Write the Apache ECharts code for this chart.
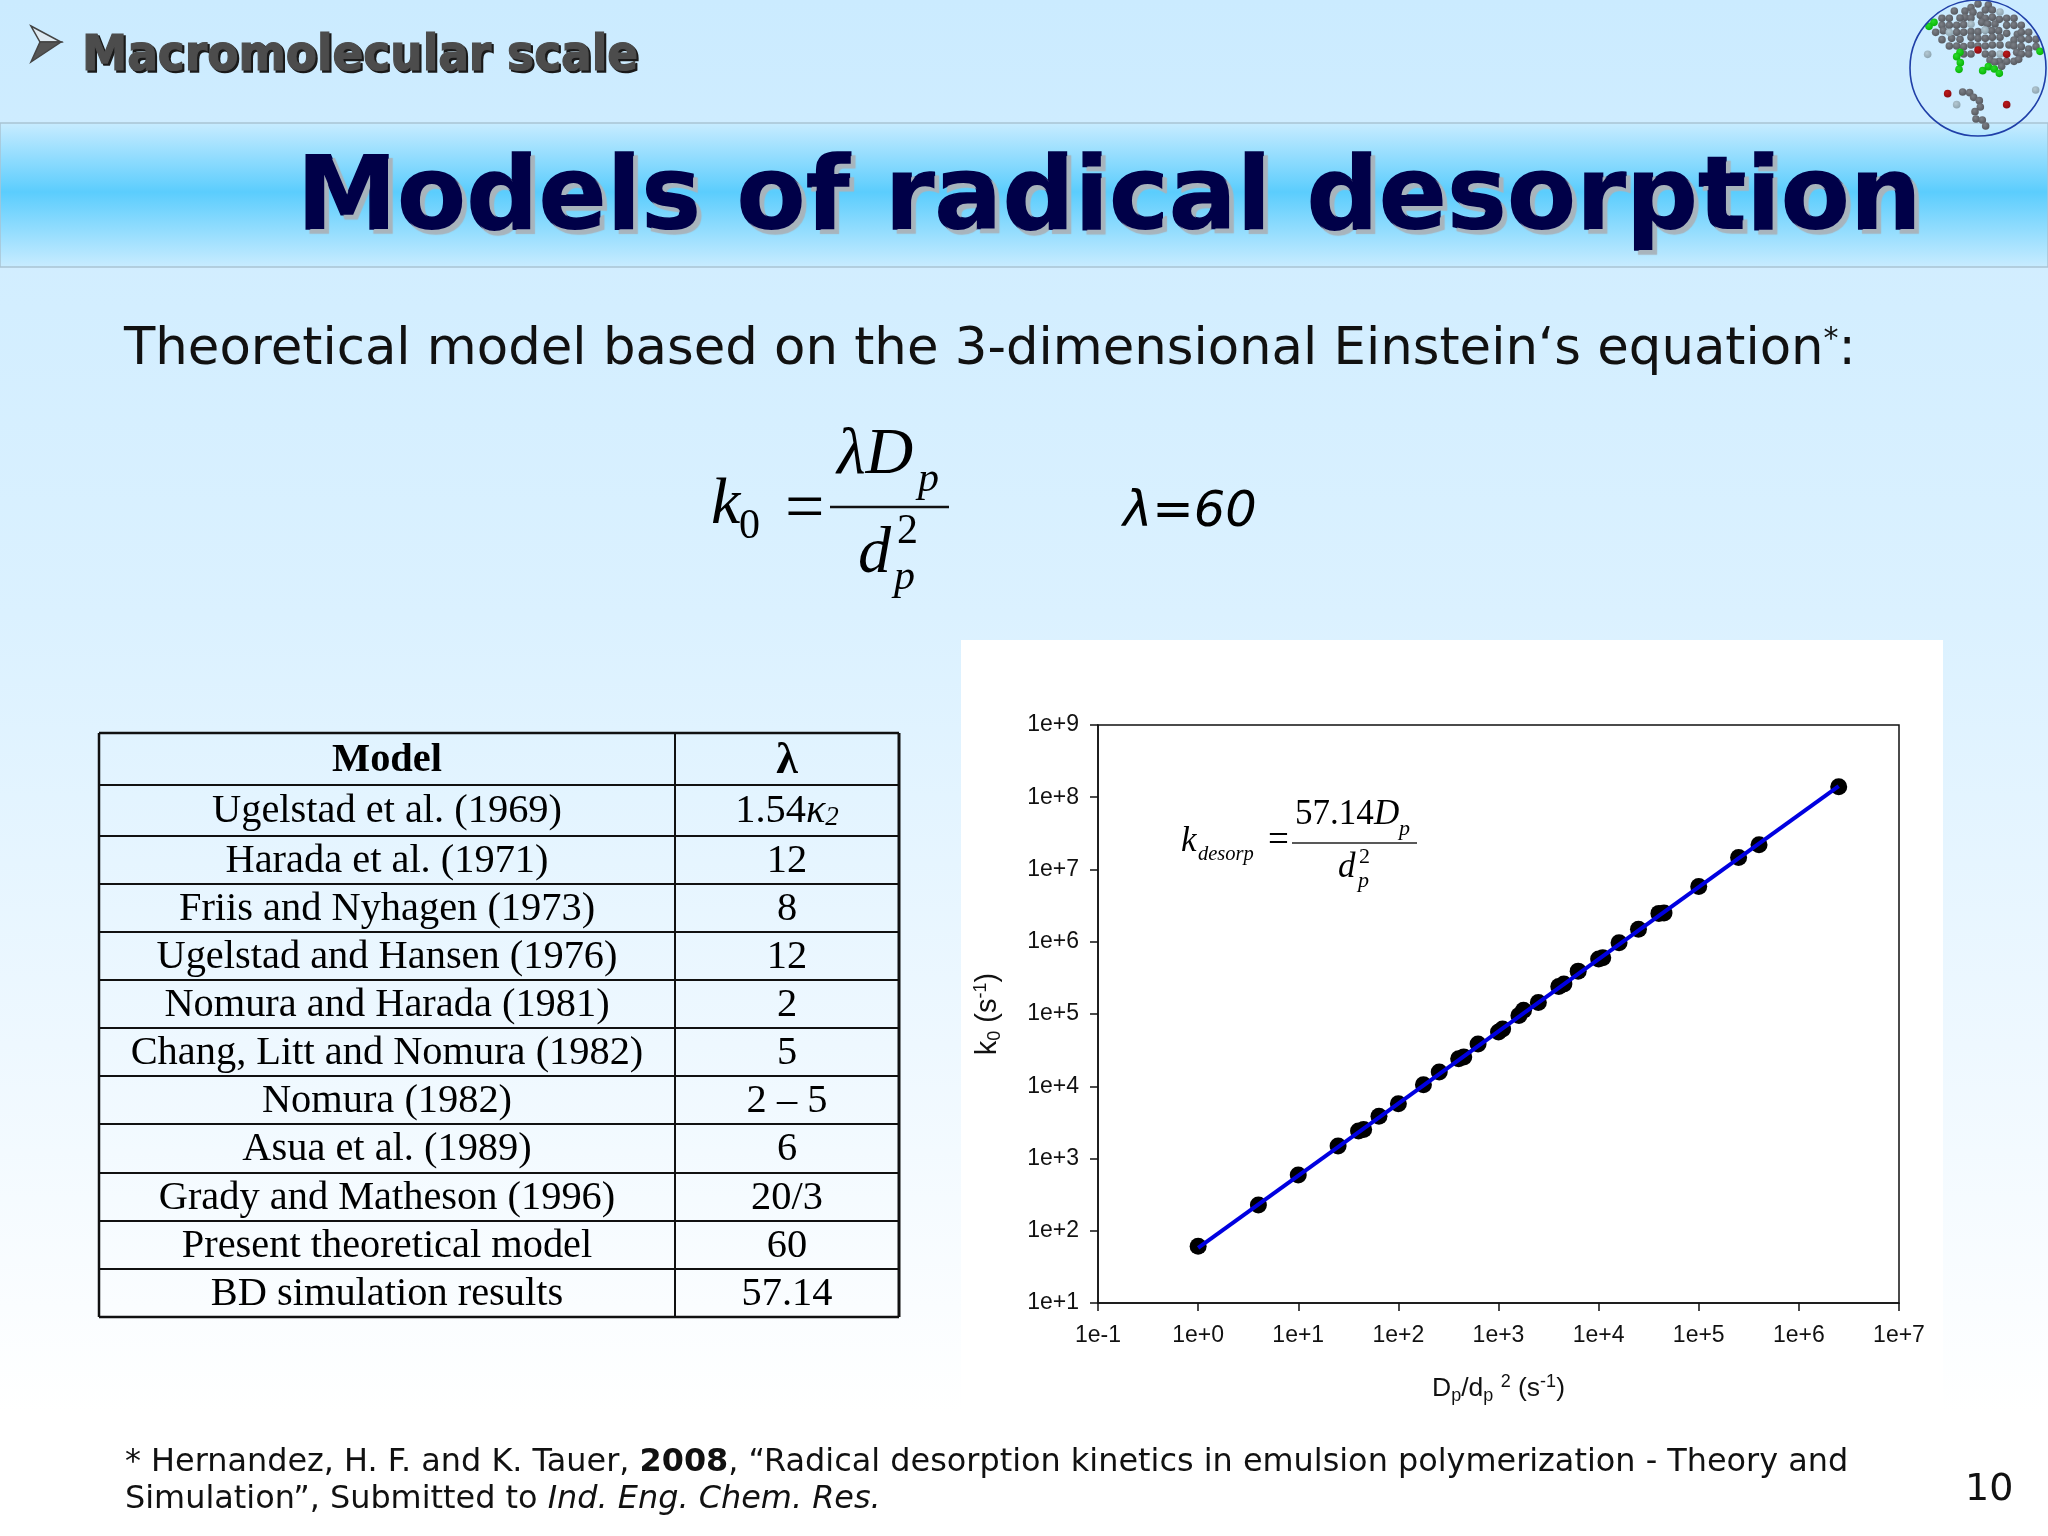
<!DOCTYPE html>
<html>
<head>
<meta charset="utf-8">
<script src="https://cdn.jsdelivr.net/npm/echarts@6/dist/echarts.min.js"></script>
<style>
html,body{margin:0;padding:0;background:#fff;}
#main{width:2048px;height:1536px;}
</style>
</head>
<body>
<div id="main"></div>
<script>
// chart data
var diffRate = [1, 4, 10, 25, 40, 45, 64, 100, 178, 256, 400, 450, 625, 1000, 1100, 1600, 1778, 2500, 4000, 4500, 6250, 10000, 11000, 16000, 25000, 40000, 45000, 100000, 250000, 400000, 2500000];
var desorpRate = [61, 228, 592, 1490, 2400, 2520, 3850, 5740, 10500, 15800, 24000, 25500, 38500, 56500, 62000, 95000, 113000, 144000, 240000, 260000, 392000, 575000, 600000, 970000, 1490000, 2470000, 2500000, 5800000, 14700000, 22000000, 140000000];
var fitX = [1, 2500000];
var fitY = [58, 142000000];
var xTicks = ['1e-1', '1e+0', '1e+1', '1e+2', '1e+3', '1e+4', '1e+5', '1e+6', '1e+7'];
var yTicks = ['1e+1', '1e+2', '1e+3', '1e+4', '1e+5', '1e+6', '1e+7', '1e+8', '1e+9'];

// table of models
var modelNames = ['Ugelstad et al. (1969)', 'Harada et al. (1971)', 'Friis and Nyhagen (1973)', 'Ugelstad and Hansen (1976)', 'Nomura and Harada (1981)', 'Chang, Litt and Nomura (1982)', 'Nomura (1982)', 'Asua et al. (1989)', 'Grady and Matheson (1996)', 'Present theoretical model', 'BD simulation results'];
var modelLambda = ['1.54{k|κ}{s|2}', '12', '8', '12', '2', '5', '2 – 5', '6', '20/3', '60', '57.14'];

// decoration: the little particle picture in the corner (zoom pixels)
var greyBalls = [[534,12],[565,15],[513,23],[463,33],[495,33],[519,37],[556,30],[577,30],[541,46],[495,52],[480,54],[513,54],[426,55],[448,55],[577,52],[556,55],[598,58],[620,55],[642,55],[545,67],[563,72],[585,72],[470,76],[491,74],[426,76],[448,76],[620,76],[642,76],[664,76],[407,97],[430,92],[470,97],[491,97],[513,95],[534,95],[556,90],[575,92],[596,92],[620,100],[652,103],[664,97],[686,97],[455,115],[480,118],[513,112],[534,115],[556,115],[577,112],[600,112],[642,120],[664,118],[686,118],[708,118],[426,119],[448,138],[470,138],[491,140],[513,135],[534,138],[556,138],[577,135],[600,135],[627,135],[642,138],[686,147],[664,140],[708,140],[491,162],[513,162],[556,162],[577,162],[650,157],[664,162],[686,162],[570,180],[598,184],[620,184],[642,184],[656,178],[605,199],[584,186],[488,276],[509,278],[521,292],[538,302],[541,321],[525,335],[528,357],[547,360],[557,378]];
var paleBalls = [[383,163],[470,314],[707,270],[600,36],[513,73],[448,97],[555,90],[600,162]];
var greenBalls = [[387,79],[402,67],[480,157],[470,170],[481,188],[477,208],[548,212],[565,200],[583,207],[598,220],[720,154]];
var redBalls = [[534,150],[620,163],[443,281],[620,314]];

var serif = '"Liberation Serif"';
var sans = '"DejaVu Sans"';
var elements = [];

function vGrad(stops) {
	return new echarts.graphic.LinearGradient(0, 0, 0, 1, stops);
}

// baseline positioned text
function putText(x, base, text, font, size, extra) {
	var st = {
		x: x,
		y: base - size * 0.28,
		text: text,
		font: font.replace('$', size + 'px'),
		fill: '#000',
		textAlign: 'left',
		verticalAlign: 'middle'
	};
	for (var k in extra) {
		st[k] = extra[k];
	}
	elements.push({ type: 'text', z: 5, silent: true, style: st });
}

function putLine(x1, y1, x2, y2, color, width) {
	elements.push({
		type: 'line', z: 5, silent: true,
		shape: { x1: x1, y1: y1, x2: x2, y2: y2 },
		style: { stroke: color, lineWidth: width }
	});
}

function putRect(x, y, w, h, fill, z) {
	elements.push({ type: 'rect', z: z, silent: true, shape: { x: x, y: y, width: w, height: h }, style: { fill: fill } });
}

//---------------------------background------------------------
putRect(0, 0, 2048, 1536, vGrad([
	{ offset: 0, color: '#cbebff' },
	{ offset: 0.4, color: '#dbf1ff' },
	{ offset: 0.68, color: '#eef8ff' },
	{ offset: 0.92, color: '#ffffff' },
	{ offset: 1, color: '#ffffff' }
]), -10);
elements.push({
	type: 'rect', z: -9, silent: true,
	shape: { x: 0, y: 123, width: 2048, height: 144 },
	style: {
		fill: vGrad([
			{ offset: 0, color: '#c9ecff' },
			{ offset: 0.48, color: '#5bcdfd' },
			{ offset: 1, color: '#c9ecff' }
		]),
		stroke: '#a9c3d3', lineWidth: 1.5
	}
});
putRect(961, 640, 982, 777, '#ffffff', -8);

//---------------------------header------------------------
elements.push({ type: 'polygon', z: 5, silent: true, shape: { points: [[31, 26], [61, 42], [40, 42]] }, style: { fill: '#dfeaf2', stroke: '#444', lineWidth: 1.5 } });
elements.push({ type: 'polygon', z: 5, silent: true, shape: { points: [[31, 62], [61, 42], [40, 42]] }, style: { fill: '#555', stroke: '#444', lineWidth: 1.5 } });
putText(84, 73, 'Macromolecular scale', 'bold $ "DejaVu Sans Condensed"', 50.5, { fill: '#1a1a1a', stroke: '#1a1a1a', lineWidth: 1.5 });
putText(82, 71, 'Macromolecular scale', 'bold $ "DejaVu Sans Condensed"', 50.5, { fill: '#4c4c4c', stroke: '#4c4c4c', lineWidth: 1.2 });
putText(297, 231, 'Models of radical desorption', 'bold $ ' + sans, 100.8, {
	fill: '#000048', stroke: '#000048', lineWidth: 1.5,
	textShadowColor: '#a8b4bc', textShadowOffsetX: 4, textShadowOffsetY: 4, textShadowBlur: 1
});
elements.push({
	type: 'text', z: 5, silent: true,
	style: {
		x: 124, y: 351, verticalAlign: 'middle',
		text: 'Theoretical model based on the 3-dimensional Einstein‘s equation{st|*}:',
		font: '51.3px ' + sans, fill: '#111',
		rich: { st: { font: '30px ' + sans, fill: '#111', verticalAlign: 'top', padding: [0, 0, 22, 0] } }
	}
});

//---------------------------equations------------------------
putText(711, 524, 'k', 'italic $ ' + serif, 66);
putText(739, 539, '0', '$ ' + serif, 42);
putText(785, 531, '=', '$ ' + serif, 70);
putText(837, 474, 'λD', 'italic $ ' + serif, 66);
putText(918, 492, 'p', 'italic $ ' + serif, 42);
putLine(830, 507, 949, 507, '#111', 2.5);
putText(858, 573, 'd', 'italic $ ' + serif, 66);
putText(897, 544, '2', '$ ' + serif, 42);
putText(894, 590, 'p', 'italic $ ' + serif, 42);
putText(1123, 527, 'λ=60', 'oblique $ ' + sans, 49.5);

putText(1181, 852, 'k', 'italic $ ' + serif, 35);
putText(1198, 860, 'desorp', 'italic $ ' + serif, 20.5);
putText(1268, 852, '=', '$ ' + serif, 37);
putText(1295, 825, '57.14', '$ ' + serif, 35);
putText(1374, 825, 'D', 'italic $ ' + serif, 35);
putText(1399, 835, 'p', 'italic $ ' + serif, 22);
putLine(1292, 843, 1417, 843, '#222', 1.5);
putText(1338, 878, 'd', 'italic $ ' + serif, 35);
putText(1359, 863, '2', '$ ' + serif, 22);
putText(1358, 887, 'p', 'italic $ ' + serif, 22);

//---------------------------model table------------------------
var tableLeft = 99, tableMid = 675, tableRight = 899;
var rowLines = [733, 785, 836, 884, 932, 980, 1028, 1076, 1124, 1173, 1221, 1269, 1317];
var tableTop = rowLines[0], tableBottom = rowLines[rowLines.length - 1];
var tableFont = '40.4px ' + serif;

function cellText(x, y, text, font, rich) {
	elements.push({
		type: 'text', z: 5, silent: true,
		style: { x: x, y: y, text: text, font: font, fill: '#000', textAlign: 'center', verticalAlign: 'middle', rich: rich }
	});
}

cellText((tableLeft + tableMid) / 2, (rowLines[0] + rowLines[1]) / 2 + 2, 'Model', 'bold 40.4px ' + serif);
cellText((tableMid + tableRight) / 2, (rowLines[0] + rowLines[1]) / 2 + 3, 'λ', 'bold 44px ' + serif);
for (var i = 0; i < modelNames.length; i++) {
	var rowMid = (rowLines[i + 1] + rowLines[i + 2]) / 2;
	cellText((tableLeft + tableMid) / 2, rowMid + 1, modelNames[i], tableFont);
	cellText((tableMid + tableRight) / 2, rowMid + 1, modelLambda[i], tableFont, {
		k: { font: 'italic 40.4px ' + serif, fill: '#000' },
		s: { font: 'italic 27px ' + serif, fill: '#000', verticalAlign: 'bottom', padding: [8, 0, 0, 0] }
	});
}
rowLines.forEach(function (y, i) {
	putLine(tableLeft, y, tableRight, y, '#111', (i == 0 || i == rowLines.length - 1) ? 2.5 : 2);
});
putLine(tableLeft, tableTop, tableLeft, tableBottom, '#111', 2.5);
putLine(tableMid, tableTop, tableMid, tableBottom, '#111', 2);
putLine(tableRight, tableTop, tableRight, tableBottom, '#111', 3);

//---------------------------footnote------------------------
var noteFont = '31.9px ' + sans;
elements.push({
	type: 'text', z: 5, silent: true,
	style: {
		x: 125, y: 1463, verticalAlign: 'middle',
		text: '* Hernandez, H. F. and K. Tauer, {b|2008}, “Radical desorption kinetics in emulsion polymerization - Theory and',
		font: noteFont, fill: '#111',
		rich: { b: { font: 'bold 31.9px ' + sans, fill: '#111' } }
	}
});
elements.push({
	type: 'text', z: 5, silent: true,
	style: {
		x: 125, y: 1500, verticalAlign: 'middle',
		text: 'Simulation”, Submitted to {i|Ind. Eng. Chem. Res.}',
		font: noteFont, fill: '#111',
		rich: { i: { font: 'oblique 31.9px ' + sans, fill: '#111' } }
	}
});
putText(1965, 1501, '10', '$ ' + sans, 38, { fill: '#111' });

//---------------------------corner particles------------------------
function ball(p, light, dark, r) {
	elements.push({
		type: 'circle', z: 4, silent: true,
		shape: { cx: 1800 + p[0] / 3, cy: p[1] / 3, r: r },
		style: { fill: new echarts.graphic.RadialGradient(0.4, 0.35, 0.7, [{ offset: 0, color: light }, { offset: 1, color: dark }]) }
	});
}
greyBalls.forEach(function (p) { ball(p, '#7b7f86', '#54575d', 3.8); });
paleBalls.forEach(function (p) { ball(p, '#b4c8d2', '#8ba2ae', 3.8); });
greenBalls.forEach(function (p) { ball(p, '#28dc28', '#08b008', 3.8); });
redBalls.forEach(function (p) { ball(p, '#c01818', '#860c14', 3.8); });
elements.push({
	type: 'circle', z: 5, silent: true,
	shape: { cx: 1978, cy: 68, r: 68 },
	style: { fill: 'none', stroke: '#1f3fa8', lineWidth: 1.6 }
});

//---------------------------scatter plot------------------------
var points = diffRate.map(function (x, i) { return [x, desorpRate[i]]; });
var fitLine = fitX.map(function (x, i) { return [x, fitY[i]]; });

function tickName(list, base) {
	return function (v) {
		return list[Math.round(Math.log10(v)) - base];
	};
}

var axisFont = '"Liberation Sans"';
var nameRich = {
	sub: { fontFamily: axisFont, fontSize: 18, color: '#111', verticalAlign: 'bottom', padding: [12, 0, 0, 0] },
	sup: { fontFamily: axisFont, fontSize: 18, color: '#111', verticalAlign: 'top', padding: [0, 0, 14, 0] }
};

var myChart = echarts.init(document.getElementById('main'), null, { renderer: 'canvas' });
var option = {
	animation: false,
	graphic: { elements: elements },
	grid: {
		left: 1098, top: 725, width: 801, height: 578,
		show: true, borderColor: '#111', borderWidth: 1.5, containLabel: false
	},
	xAxis: {
		type: 'log', logBase: 10, min: 0.1, max: 10000000,
		splitNumber: 8,
		splitLine: { show: false }, minorTick: { show: false },
		axisLine: { onZero: false, lineStyle: { color: '#111', width: 1.5 } },
		axisTick: { inside: false, length: 8, lineStyle: { color: '#111', width: 1.5 } },
		axisLabel: { color: '#111', fontFamily: axisFont, fontSize: 23, margin: 21, formatter: tickName(xTicks, -1) },
		name: 'D{sub|p}/d{sub|p} {sup|2} (s{sup|-1})',
		nameLocation: 'middle', nameGap: 70,
		nameTextStyle: { color: '#111', fontFamily: axisFont, fontSize: 26.5, rich: nameRich }
	},
	yAxis: {
		type: 'log', logBase: 10, min: 10, max: 1000000000,
		splitNumber: 8,
		splitLine: { show: false }, minorTick: { show: false },
		axisLine: { onZero: false, lineStyle: { color: '#111', width: 1.5 } },
		axisTick: { inside: false, length: 8, lineStyle: { color: '#111', width: 1.5 } },
		axisLabel: { color: '#111', fontFamily: axisFont, fontSize: 23, margin: 19, padding: [4, 0, 0, 0], formatter: tickName(yTicks, 1) },
		name: 'k{sub|0} (s{sup|-1})',
		nameLocation: 'middle', nameGap: 94, nameRotate: 90,
		nameTextStyle: { color: '#111', fontFamily: axisFont, fontSize: 29, rich: nameRich }
	},
	series: [
		{
			name: 'BD simulation', type: 'scatter', data: points, symbol: 'circle', symbolSize: 17, z: 3,
			itemStyle: { color: '#000', opacity: 1 }
		},
		{
			name: 'fit', type: 'line', data: fitLine, showSymbol: false, z: 4,
			lineStyle: { color: '#0000e0', width: 4 }
		}
	]
};
myChart.setOption(option);
</script>
</body>
</html>
